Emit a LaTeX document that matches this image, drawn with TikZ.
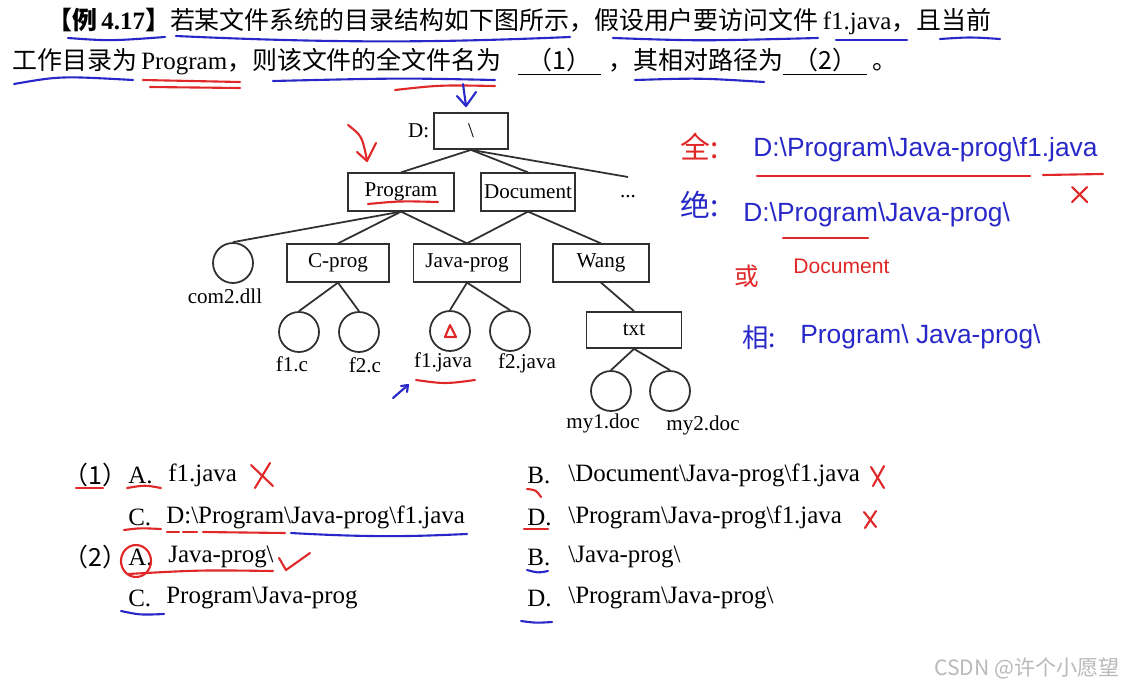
\documentclass[tikz,border=0pt]{standalone}
\usepackage{fontspec}
\usepackage{xcolor}
\usepackage{tikz}
\usetikzlibrary{positioning}
\setmainfont{Liberation Serif}
\newfontfamily\cjk{Noto Sans CJK SC}
\newfontfamily\hand{Liberation Sans}
\definecolor{TreeGray}{HTML}{303030}
\definecolor{InkRed}{HTML}{E02828}
\definecolor{InkBlue}{HTML}{2828C8}
\newcommand{\zh}[1]{{\cjk #1}}
\newcommand{\bs}{\textbackslash}
\tikzset{
  dirbox/.style={
    draw=TreeGray,
    line width=1pt,
    inner sep=0pt,
    minimum height=0.75cm,
    font=\fontsize{12}{14}\selectfont
  },
  filenode/.style={
    circle,
    draw=TreeGray,
    line width=1pt,
    minimum size=0.8cm,
    inner sep=0pt
  },
  fname/.style={font=\fontsize{12}{14}\selectfont, inner sep=0pt},
  branch/.style={draw=TreeGray, line width=1pt},
  maintext/.style={anchor=west, inner sep=0pt, font=\fontsize{14.2}{17}\selectfont},
  redpen/.style={draw=InkRed, line width=1.2pt, line cap=round, line join=round},
  bluepen/.style={draw=InkBlue, line width=1.2pt, line cap=round, line join=round},
  redhand/.style={anchor=west, inner sep=0pt, text=InkRed, font=\hand\fontsize{15}{18}\selectfont},
  bluehand/.style={anchor=west, inner sep=0pt, text=InkBlue, font=\hand\fontsize{15}{18}\selectfont}
}
\begin{document}
\begin{tikzpicture}[x=0.02cm, y=-0.02cm]
\useasboundingbox[fill=white] (0,0) rectangle (1125,690);

% question text
\node[maintext] (line1) at (47,21) {\zh{\bfseries 【例}\textbf{\,4.17}\zh{\bfseries 】}\zh{若某文件系统的目录结构如下图所示，假设用户要访问文件}\,f1.java\zh{，且当前}};
\node[maintext] (line2) at (12,62) {\zh{工作目录为}\,Program\zh{，则该文件的全文件名为}\hspace{0.32cm}\underline{\hspace{0.2cm}\zh{（1）}\hspace{0.2cm}}\hspace{0.15cm}\zh{，其相对路径为}\underline{\hspace{0.2cm}\zh{（2）}\hspace{0.2cm}}\hspace{0.1cm}\zh{。}};

% directory tree
\node[dirbox, minimum width=1.48cm, minimum height=0.72cm] (root) at (471,131) {\bs};
\node[fname, left=2pt of root] (drive) {D:};
\node[dirbox, minimum width=2.12cm] (program) at (401,192) {Program};
\node[dirbox, minimum width=1.88cm] (document) at (528,192) {Document};
\node[fname] (more) at (628,197) {...};
\coordinate (moreend) at (628,177);
\node[filenode] (com2) at (233,263) {};
\node[dirbox, minimum width=2.04cm] (cprog) at (338,263) {C-prog};
\node[dirbox, minimum width=2.14cm] (javaprog) at (467,263) {Java-prog};
\node[dirbox, minimum width=1.92cm] (wang) at (601,263) {Wang};
\node[filenode] (f1c) at (299,332) {};
\node[filenode] (f2c) at (359,332) {};
\node[filenode] (f1java) at (450,331) {};
\node[filenode] (f2java) at (510,331) {};
\node[dirbox, minimum width=1.9cm, minimum height=0.72cm] (txt) at (634,330) {txt};
\node[filenode] (my1) at (611,391) {};
\node[filenode] (my2) at (670,391) {};
\node[fname] (com2name) at (225,296) {com2.dll};
\node[fname] (f1cname) at (292,364) {f1.c};
\node[fname] (f2cname) at (365,365) {f2.c};
\node[fname] (f1javaname) at (443,362) {f1.java};
\node[fname] (f2javaname) at (527,363) {f2.java};
\node[fname] (my1name) at (603,423) {my1.doc};
\node[fname] (my2name) at (703,425) {my2.doc};
% root -> first level
\draw[branch] (root.south) -- (program.north);
\draw[branch] (root.south) -- (document.north);
\draw[branch] (root.south) -- (moreend);
% Program -> children
\draw[branch] (program.south) -- (com2.north);
\draw[branch] (program.south) -- (cprog.north);
\draw[branch] (program.south) -- (javaprog.north);
% Document -> children
\draw[branch] (document.south) -- (javaprog.north);
\draw[branch] (document.south) -- (wang.north);
% leaves
\draw[branch] (cprog.south) -- (f1c.north);
\draw[branch] (cprog.south) -- (f2c.north);
\draw[branch] (javaprog.south) -- (f1java.north);
\draw[branch] (javaprog.south) -- (f2java.north);
\draw[branch] (wang.south) -- (txt.north);
\draw[branch] (txt.south) -- (my1.north);
\draw[branch] (txt.south) -- (my2.north);

% answer choices
\node[maintext] (q1) at (63,475) {\zh{（1）}};
\node[maintext] (q1A) at (128,475) {A.};
\node[maintext] (q1Atext) at (168,475) {f1.java};
\node[maintext] (q1B) at (527,475) {B.};
\node[maintext] (q1Btext) at (568,475) {\bs Document\bs Java-prog\bs f1.java};
\node[maintext] (q1C) at (128,517) {C.};
\node[maintext] (q1Ctext) at (166,517) {D:\bs Program\bs Java-prog\bs f1.java};
\node[maintext] (q1D) at (527,517) {D.};
\node[maintext] (q1Dtext) at (568,517) {\bs Program\bs Java-prog\bs f1.java};
\node[maintext] (q2) at (63,557) {\zh{（2）}};
\node[maintext] (q2A) at (128,557) {A.};
\node[maintext] (q2Atext) at (168,557) {Java-prog\bs};
\node[maintext] (q2B) at (527,557) {B.};
\node[maintext] (q2Btext) at (568,557) {\bs Java-prog\bs};
\node[maintext] (q2C) at (128,598) {C.};
\node[maintext] (q2Ctext) at (166,598) {Program\bs Java-prog};
\node[maintext] (q2D) at (527,598) {D.};
\node[maintext] (q2Dtext) at (568,598) {\bs Program\bs Java-prog\bs};

% handwritten notes
\node[redhand, font=\cjk\fontsize{17}{20}\selectfont] (quan) at (680,147) {全:};
\node[bluehand] (fullpath) at (753,150) {D:\bs Program\bs Java-prog\bs f1.java};
\node[bluehand, font=\cjk\fontsize{17}{20}\selectfont] (jue) at (680,205) {绝:};
\node[bluehand] (abspath) at (743,215) {D:\bs Program\bs Java-prog\bs};
\node[redhand, font=\cjk\fontsize{14}{16}\selectfont] (huo) at (734,276) {或};
\node[redhand, font=\hand\fontsize{12}{14}\selectfont] (altdoc) at (793,266) {Document};
\node[bluehand, font=\cjk\fontsize{15}{18}\selectfont] (xiang) at (742,337) {相:};
\node[bluehand] (relpath) at (800,337) {Program\bs\ Java-prog\bs};

% pen strokes on the question
\draw[bluepen] (68,38) .. controls (110,41) .. (165,37);
\draw[bluepen] (176,36) .. controls (350,44) and (450,42) .. (570,37);
\draw[bluepen] (613,38) .. controls (700,41) .. (818,38);
\draw[bluepen] (836,40) -- (907,40);
\draw[bluepen] (940,39) .. controls (970,37) .. (1000,39);
\draw[bluepen] (14,84) .. controls (60,76) .. (133,80);
\draw[redpen] (143,80) -- (240,82);
\draw[redpen] (150,87) -- (240,88);
\draw[bluepen] (273,81) .. controls (400,78) .. (495,80);
\draw[redpen] (395,90) .. controls (440,85) .. (495,86);
\draw[bluepen] (635,80) .. controls (700,78) .. (764,82);
% pen strokes on the tree
\draw[bluepen] (463,84) -- (466,106);
\draw[bluepen] (457,96) -- (466,106) -- (476,92);
\draw[redpen] (348,125) .. controls (362,136) .. (367,160);
\draw[redpen] (357,152) -- (367,161) -- (376,143);
\draw[redpen] (368,204) .. controls (400,201) .. (438,202);
\draw[redpen] (445,337) -- (456,337) -- (450,325) -- cycle;
\draw[redpen] (416,380) .. controls (445,384) .. (475,380);
\draw[bluepen] (393,398) -- (408,385);
\draw[bluepen] (401,386) -- (408,385) -- (407,392);
% pen strokes on the notes
\draw[redpen] (757,176) -- (1030,176);
\draw[redpen] (1043,175) -- (1103,174);
\draw[redpen] (1072,187) -- (1087,202);
\draw[redpen] (1087,187) -- (1072,202);
\draw[redpen] (783,238) -- (868,238);
% pen strokes on the choices
\draw[redpen] (76,488) -- (103,488);
\draw[redpen] (127,488) .. controls (145,485) .. (161,488);
\draw[redpen] (251,465) -- (273,486);
\draw[redpen] (270,463) -- (255,488);
\draw[redpen] (527,489) .. controls (536,490) .. (541,497);
\draw[redpen] (871,467) -- (884,488);
\draw[redpen] (884,466) -- (873,486);
\draw[redpen] (124,530) .. controls (140,528) .. (161,529);
\draw[redpen] (167,532) -- (179,532);
\draw[redpen] (183,532) -- (197,532);
\draw[redpen] (203,532) -- (285,533);
\draw[bluepen] (291,533) .. controls (380,538) and (420,536) .. (467,534);
\draw[redpen] (524,529) -- (548,529);
\draw[redpen] (864,512) -- (876,527);
\draw[redpen] (876,511) -- (865,528);
\draw[redpen] (136,561) ellipse [x radius=15, y radius=16];
\draw[redpen] (128,574) .. controls (200,570) .. (273,571);
\draw[redpen] (279,558) -- (286,570) -- (310,553);
\draw[bluepen] (527,570) .. controls (538,573) .. (548,571);
\draw[bluepen] (121,611) .. controls (140,615) .. (164,614);
\draw[bluepen] (521,621) .. controls (536,623) .. (552,622);

% watermark
\node[anchor=east, inner sep=0pt, text=gray!55, font=\cjk\fontsize{12}{14}\selectfont] (mark) at (1120,668) {CSDN @许个小愿望};
\end{tikzpicture}
\end{document}
